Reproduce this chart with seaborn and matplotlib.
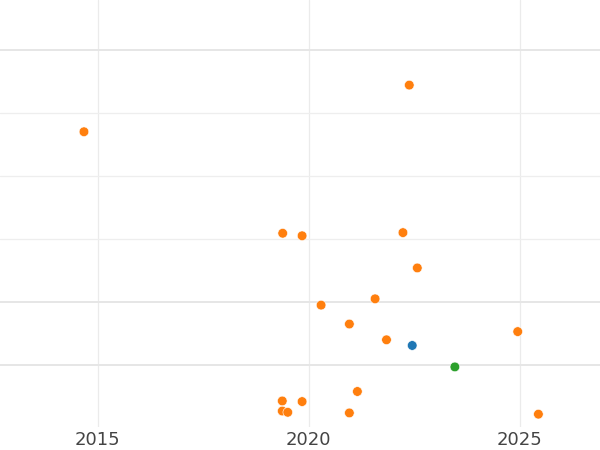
import pandas as pd
import seaborn as sns
import matplotlib.pyplot as plt

# values
year = [2014.67, 2022.38, 2019.38, 2019.84, 2022.23, 2022.57, 2020.29, 2021.57,
        2020.96, 2021.84, 2022.45, 2024.95, 2023.46, 2021.15, 2019.37, 2019.84,
        2019.37, 2019.50, 2020.96, 2025.44]
value = [4.70, 5.44, 3.09, 3.05, 3.10, 2.54, 1.95, 2.05,
         1.65, 1.40, 1.31, 1.53, 0.97, 0.58, 0.43, 0.42,
         0.27, 0.25, 0.24, 0.22]
group = ['b'] * 10 + ['a', 'b', 'c'] + ['b'] * 7
palette = {'a': '#1f77b4', 'b': '#ff7f0e', 'c': '#2ca02c'}

df = pd.DataFrame({'year': year, 'value': value, 'group': group})

sns.set_style('white')
fig = plt.figure(figsize=(6, 4.5), dpi=100)
ax = fig.add_axes([0, 0.051, 1, 0.949])

sns.scatterplot(data=df, x='year', y='value', hue='group', palette=palette,
                s=48, edgecolor='white', linewidth=0.4, legend=False, ax=ax, zorder=3)

ax.set_xlim(2012.68, 2026.9)
ax.set_ylim(0.016, 6.79)
ax.set_xticks([2015, 2020, 2025])
ax.set_yticks([1, 2, 6])
ax.set_yticks([3, 4, 5], minor=True)
ax.grid(axis='x', color='#ebebeb', linewidth=0.9)
ax.grid(axis='y', which='major', color='#e6e6e6', linewidth=1.4)
ax.grid(axis='y', which='minor', color='#eeeeee', linewidth=0.9)
ax.set_axisbelow(True)
ax.tick_params(axis='x', length=0, labelsize=13, labelcolor='#444444', pad=3)
ax.tick_params(axis='y', which='both', length=0, labelleft=False)
ax.set_xlabel('')
ax.set_ylabel('')
for sp in ax.spines.values():
    sp.set_visible(False)

fig.savefig('out.png', dpi=100)
